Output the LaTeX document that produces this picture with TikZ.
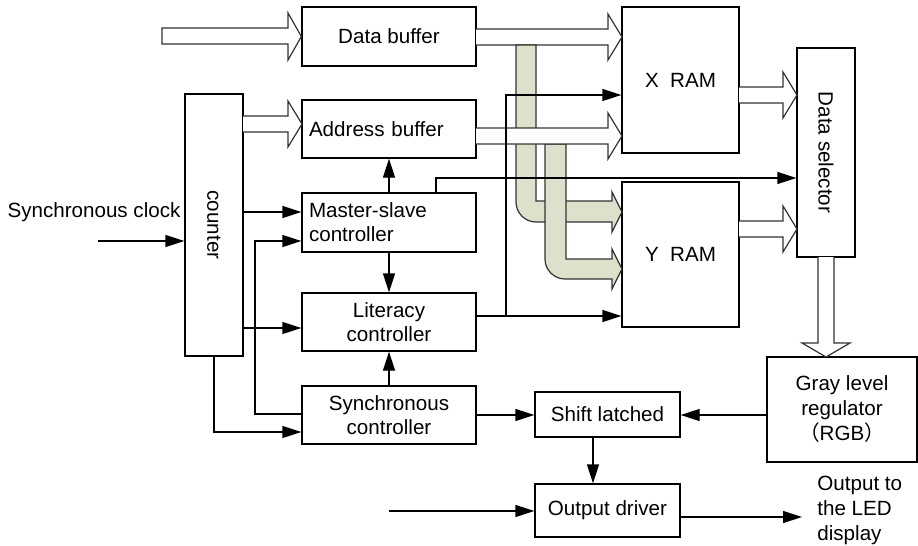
\documentclass[tikz,border=0pt]{standalone}
\usepackage{fontspec}
\setmainfont{Liberation Sans}
\newfontfamily\cjk{Noto Sans CJK SC}
\usetikzlibrary{arrows.meta}
\definecolor{busgreen}{RGB}{221,224,203}
\begin{document}
\begin{tikzpicture}[x=0.5pt,y=-0.5pt,
  font=\fontsize{10.3}{12}\selectfont,
  box/.style={draw, line width=0.65pt, inner sep=0pt, align=center, fill=white},
  arr/.style={-{Triangle[length=9.5pt,width=6pt]}, line width=0.65pt},
  bus/.style={draw=black!80, fill=white, line width=0.6pt},
  gbus/.style={draw=black!80, fill=busgreen, line width=0.6pt}]
\useasboundingbox (0,0) rectangle (918,546);

% boxes
\node[box, minimum width=87pt, minimum height=29.5pt] (db) at (389,36.5) {Data buffer};
\node[box, minimum width=87pt, minimum height=29pt, text width=80pt, align=left] (ab) at (389,129) {Address buffer};
\node[box, minimum width=87pt, minimum height=29.5pt, text width=80pt, align=left] (ms) at (389,222.5) {Master-slave\\controller};
\node[box, minimum width=87pt, minimum height=29pt] (lit) at (389,322) {Literacy\\controller};
\node[box, minimum width=87pt, minimum height=29pt] (sc) at (389,415) {Synchronous\\controller};
\node[box, minimum width=29pt, minimum height=131pt] (cnt) at (214,225) {};
\node[rotate=-90, inner sep=0pt] (cntt) at (cnt.center) {counter};
\node[box, minimum width=58.5pt, minimum height=73pt] (xram) at (680.5,80) {X\ \ RAM};
\node[box, minimum width=58.5pt, minimum height=72.5pt] (yram) at (680.5,254.5) {Y\ \ RAM};
\node[box, minimum width=29pt, minimum height=104.5pt] (ds) at (826,152.5) {};
\node[rotate=-90, inner sep=0pt] (dst) at (ds.center) {Data selector};
\node[box, minimum width=75pt, minimum height=52.5pt, font=\fontsize{10.3}{12.5}\selectfont] (gray) at (842,409.5) {Gray level\\regulator\\{\cjk （}RGB{\cjk ）}};
\node[box, minimum width=72.5pt, minimum height=22.5pt] (sl) at (607.5,414.5) {Shift latched};
\node[box, minimum width=72.5pt, minimum height=26.5pt] (od) at (607.5,510.5) {Output driver};
\node[inner sep=0pt] (sclk) at (94,212) {Synchronous clock};
\node[anchor=west, align=left, inner sep=0pt, font=\fontsize{10.3}{12.5}\selectfont] (outl) at (817,510) {Output to\\the LED\\display};

% hollow buses
\draw[bus] (162,28) -- (288,28) -- (288,13) -- (db.west) -- (288,60) -- (288,44) -- (162,44) -- cycle;
\draw[bus] (243,116) -- (288,116) -- (288,101) -- (302,124) -- (288,147) -- (288,132) -- (243,132);
\draw[bus] (476,29) -- (608,29) -- (608,14) -- (622,37) -- (608,60) -- (608,45) -- (476,45);
\draw[gbus] (516,45) -- (516,202) .. controls (516,213) and (525,222) .. (536,222) -- (612,222) -- (612,232) -- (622,212) -- (612,192) -- (612,201) -- (536,201) -- (536,45) -- cycle;
\draw[gbus] (545,144) -- (545,259) .. controls (545,270) and (554,279) .. (565,279) -- (612,279) -- (612,289) -- (622,269) -- (612,249) -- (612,259) -- (566,259) -- (566,144) -- cycle;
\draw[bus] (476,128) -- (608,128) -- (608,113) -- (622,136) -- (608,159) -- (608,144) -- (476,144);
\draw[bus] (739,87) -- (783,87) -- (783,72) -- (797,95) -- (783,118) -- (783,103) -- (739,103);
\draw[bus] (739,221) -- (783,221) -- (783,206) -- (797,229) -- (783,252) -- (783,237) -- (739,237);
\draw[bus] (818,257) -- (818,343) -- (802,343) -- (826,357) -- (850,343) -- (834,343) -- (834,257);

% connectors
\coordinate (clkin) at (98,241);
\draw[arr] (clkin) -- (clkin -| cnt.west);
\draw[arr] (cnt.east |- 0,212) -- (ms.west |- 0,212);
\draw[arr] (cnt.east |- 0,328) -- (lit.west |- 0,328);
\draw[arr] (cnt.south) -- (cnt.south |- 0,432) -- (sc.west |- 0,432);
\draw[arr] (sc.west |- 0,414) -- (255,414) -- (255,241) -- (ms.west |- 0,241);
\draw[arr] (ms.north) -- (ab.south);
\draw[arr] (ms.south) -- (lit.north);
\draw[arr] (sc.north) -- (lit.south);
\draw[arr] (ms.north -| 436,0) -- (436,178) -- (ds.west |- 0,178);
\draw[arr] (lit.east |- 0,316) -- (yram.west |- 0,316);
\draw[arr] (506,316) -- (506,95) -- (xram.west |- 0,95);
\draw[arr] (sc.east |- 0,415) -- (sl.west |- 0,415);
\draw[arr] (gray.west |- 0,415) -- (sl.east |- 0,415);
\draw[arr] (sl.south -| 593,0) -- (od.north -| 593,0);
\coordinate (odin) at (389,511);
\draw[arr] (odin) -- (odin -| od.west);
\coordinate (odout) at (802,517);
\draw[arr] (od.east |- odout) -- (odout);
\end{tikzpicture}
\end{document}
